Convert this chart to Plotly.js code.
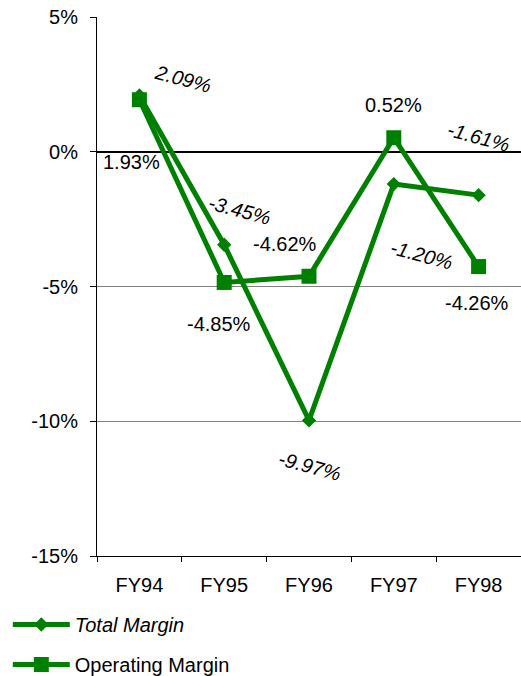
<!DOCTYPE html>
<html><head><meta charset="utf-8">
<script src="https://cdn.plot.ly/plotly-3.0.1.min.js"></script>
<style>html,body{margin:0;padding:0;background:#fff}#chart{width:521px;height:676px}</style>
</head><body><div id="chart"></div>
<script>
const categories = ['FY94','FY95','FY96','FY97','FY98'];
const totalMargin = [2.09, -3.45, -9.97, -1.20, -1.61];
const operatingMargin = [1.93, -4.85, -4.62, 0.52, -4.26];
const yTickVals = [5, 0, -5, -10, -15];
const yTickText = ['5%', '0%', '-5%', '-10%', '-15%'];

// label offsets in pixels (x, y up)
const totalOffsets = [[44,16],[15,35],[0,-46],[28,-71],[0,58]];
const opOffsets = [[-8,-62],[-5,-42],[-24,32],[0,33],[-2,-36]];

const FONT = 'Liberation Sans, Arial, sans-serif';
const green = '#008000';

const traces = [
  {x: categories, y: totalMargin, name: '<i>Total Margin</i>', mode: 'lines+markers', type: 'scatter',
   line: {color: green, width: 5}, marker: {symbol: 'diamond', size: 11, color: green}},
  {x: categories, y: operatingMargin, name: 'Operating Margin', mode: 'lines+markers', type: 'scatter',
   line: {color: green, width: 5}, marker: {symbol: 'square', size: 15, color: green}}
];

const annotations = [];
categories.forEach((c, i) => {
  annotations.push({x: c, y: totalMargin[i], xref: 'x', yref: 'y', showarrow: false,
    text: totalMargin[i].toFixed(2) + '%', textangle: 15,
    xshift: totalOffsets[i][0], yshift: totalOffsets[i][1],
    font: {family: FONT, size: 20, color: '#000', style: 'italic'}});
  annotations.push({x: c, y: operatingMargin[i], xref: 'x', yref: 'y', showarrow: false,
    text: operatingMargin[i].toFixed(2) + '%',
    xshift: opOffsets[i][0], yshift: opOffsets[i][1],
    font: {family: FONT, size: 20, color: '#000'}});
});

const layout = {
  width: 521, height: 676,
  margin: {l: 97, r: 0, t: 17, b: 120, autoexpand: false},
  paper_bgcolor: '#fff', plot_bgcolor: '#fff',
  font: {family: FONT, size: 20, color: '#000'},
  showlegend: true,
  legend: {xref: 'container', yref: 'container', x: 0.015, y: 0.105, xanchor: 'left', yanchor: 'top',
    bgcolor: 'rgba(0,0,0,0)', borderwidth: 0, font: {family: FONT, size: 20, color: '#000'},
    tracegroupgap: 11, itemwidth: 57},
  xaxis: {type: 'category', range: [-0.5, 4.5], showline: true, linecolor: '#000', linewidth: 1,
    ticks: 'outside', ticklen: 5, tickcolor: '#000', tickson: 'boundaries', showgrid: false,
    zeroline: false, tickangle: 0, ticklabelstandoff: 11, tickfont: {family: FONT, size: 20}, fixedrange: true},
  yaxis: {range: [-15, 5], tickvals: yTickVals, ticktext: yTickText, showline: true, linecolor: '#000',
    linewidth: 1, ticks: 'outside', ticklen: 6, tickcolor: '#000', showgrid: true, gridcolor: '#808080',
    gridwidth: 1, zeroline: true, zerolinecolor: '#000', zerolinewidth: 1.5, ticklabelstandoff: 8,
    tickfont: {family: FONT, size: 20}, fixedrange: true},
  annotations: annotations
};
traces[0].legendgroup = 'a';
traces[1].legendgroup = 'b';
Plotly.newPlot('chart', traces, layout, {displayModeBar: false, staticPlot: true});
</script></body></html>
